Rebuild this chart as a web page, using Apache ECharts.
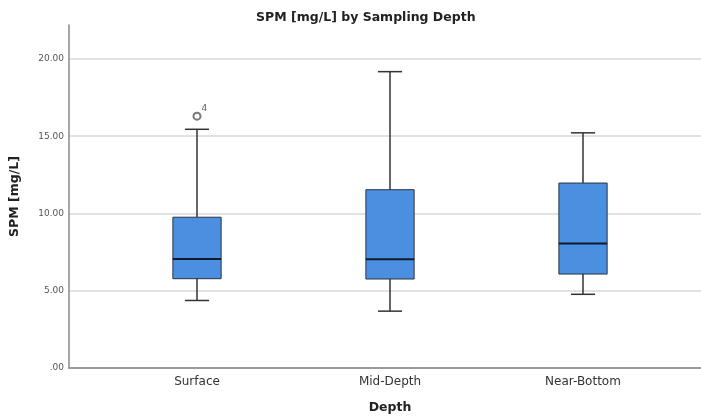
<!DOCTYPE html>
<html>
<head>
<meta charset="utf-8">
<script src="https://cdn.jsdelivr.net/npm/echarts@6/dist/echarts.min.js"></script>
<style>
  html, body { margin: 0; padding: 0; background: #fff; }
  #chart { width: 701px; height: 419px; }
</style>
</head>
<body>
<div id="chart"></div>
<script>
// SPM concentration by sampling depth: five-number summaries per depth class
const categories = ['Surface', 'Mid-Depth', 'Near-Bottom'];
const lowerWhisker = [4.37, 3.68, 4.77];
const quartile1 = [5.78, 5.76, 6.08];
const medians = [7.06, 7.04, 8.05];
const quartile3 = [9.76, 11.54, 11.97];
const upperWhisker = [15.45, 19.18, 15.22];

// Outlying cases: category index, value, case label
const outlierCategory = [0];
const outlierValue = [16.3];
const outlierCase = ['4'];

const yTicks = [0, 5, 10, 15, 20];

const boxRows = categories.map((c, i) => [i, lowerWhisker[i], quartile1[i], medians[i], quartile3[i], upperWhisker[i]]);
const outlierRows = outlierValue.map((v, i) => ({ value: [outlierCategory[i], v], caseLabel: outlierCase[i] }));

const FONT = 'DejaVu Sans';

function renderBox(params, api) {
  const idx = api.value(0);
  const band = api.size([1, 0])[0];
  const boxW = band * 0.25;
  const capW = band * 0.125;
  const pLow = api.coord([idx, api.value(1)]);
  const pQ1 = api.coord([idx, api.value(2)]);
  const pMed = api.coord([idx, api.value(3)]);
  const pQ3 = api.coord([idx, api.value(4)]);
  const pHigh = api.coord([idx, api.value(5)]);
  const cx = pMed[0];
  const whisker = { stroke: '#333', lineWidth: 1.5 };
  return {
    type: 'group',
    children: [
      { type: 'line', shape: { x1: cx, y1: pQ3[1], x2: cx, y2: pHigh[1] }, style: whisker },
      { type: 'line', shape: { x1: cx, y1: pQ1[1], x2: cx, y2: pLow[1] }, style: whisker },
      { type: 'line', shape: { x1: cx - capW / 2, y1: pHigh[1], x2: cx + capW / 2, y2: pHigh[1] }, style: whisker },
      { type: 'line', shape: { x1: cx - capW / 2, y1: pLow[1], x2: cx + capW / 2, y2: pLow[1] }, style: whisker },
      { type: 'rect', shape: { x: cx - boxW / 2, y: pQ3[1], width: boxW, height: pQ1[1] - pQ3[1] },
        style: { fill: '#4b8fe1', stroke: '#2b3440', lineWidth: 1 } },
      { type: 'line', shape: { x1: cx - boxW / 2, y1: pMed[1], x2: cx + boxW / 2, y2: pMed[1] },
        style: { stroke: '#111a2e', lineWidth: 2 } }
    ]
  };
}

const Y_MAX = 22.2;

const chart = echarts.init(document.getElementById('chart'), null, { renderer: 'canvas' });
chart.setOption({
  animation: false,
  backgroundColor: '#ffffff',
  title: {
    text: 'SPM [mg/L] by Sampling Depth',
    left: 251, top: 6,
    textStyle: { fontFamily: FONT, fontSize: 12.5, fontWeight: 'bold', color: '#222' }
  },
  grid: [
    { left: 68, right: 0, top: 25, bottom: 51 },
    { left: 100.5, right: 21.5, top: 25, bottom: 51 }
  ],
  xAxis: [
    {
      gridIndex: 0, type: 'value', min: 0, max: 1,
      axisLine: { show: true, lineStyle: { color: '#9a9a9a', width: 2 } },
      axisTick: { show: false }, axisLabel: { show: false }, splitLine: { show: false }
    },
    {
      gridIndex: 1, type: 'category', data: categories, boundaryGap: true,
      axisLine: { show: false }, axisTick: { show: false },
      axisLabel: { fontFamily: FONT, fontSize: 12, color: '#333', margin: 8 },
      name: 'Depth', nameLocation: 'middle', nameGap: 33,
      nameTextStyle: { fontFamily: FONT, fontSize: 12.5, fontWeight: 'bold', color: '#222' }
    }
  ],
  yAxis: [
    {
      gridIndex: 0, type: 'value', min: 0, max: Y_MAX, interval: 5,
      axisLine: { show: true, lineStyle: { color: '#8a8a8a', width: 1.5 } },
      axisTick: { show: false },
      axisLabel: {
        fontFamily: FONT, fontSize: 9, color: '#555', margin: 5, showMaxLabel: false,
        formatter: v => yTicks.includes(v) ? (v === 0 ? '.00' : v.toFixed(2)) : ''
      },
      splitLine: { show: true, showMaxLine: false, showMinLine: false, lineStyle: { color: '#d9d9d9', width: 1.5 } },
      name: 'SPM [mg/L]', nameLocation: 'middle', nameGap: 48,
      nameTextStyle: { fontFamily: FONT, fontSize: 12.5, fontWeight: 'bold', color: '#222' }
    },
    {
      gridIndex: 1, type: 'value', min: 0, max: Y_MAX, show: false
    }
  ],
  series: [
    {
      type: 'custom', xAxisIndex: 1, yAxisIndex: 1,
      renderItem: renderBox,
      encode: { x: 0, y: [1, 2, 3, 4, 5] },
      data: boxRows
    },
    {
      type: 'scatter', xAxisIndex: 1, yAxisIndex: 1,
      symbol: 'emptyCircle', symbolSize: 7,
      itemStyle: { color: '#555', borderColor: '#555', borderWidth: 1.3 },
      label: {
        show: true, position: [9, -8], fontFamily: FONT, fontSize: 9, color: '#333',
        formatter: p => p.data.caseLabel
      },
      data: outlierRows
    }
  ]
});
</script>
</body>
</html>
